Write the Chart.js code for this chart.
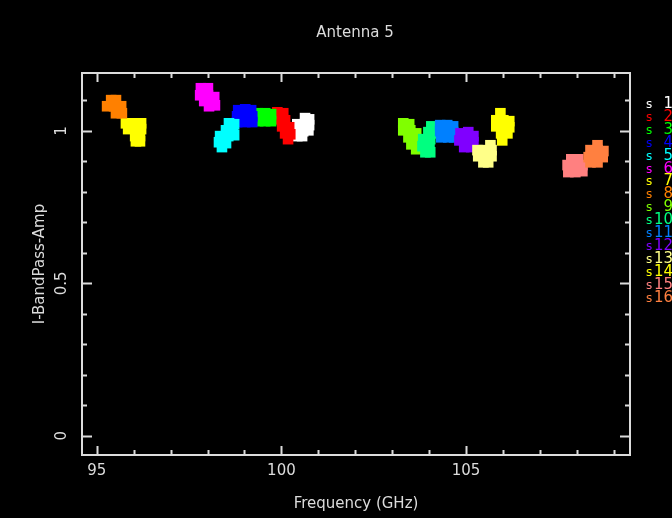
<!DOCTYPE html>
<html>
<head>
<meta charset="utf-8">
<title>Antenna 5</title>
<script src="https://cdn.jsdelivr.net/npm/chart.js@4.4.1/dist/chart.umd.min.js"></script>
<style>
	html, body { margin: 0; padding: 0; background: #000; }
	#wrap { width: 672px; height: 518px; }
</style>
</head>
<body>
<div id="wrap"><canvas id="bp" width="672" height="518"></canvas></div>
<script>
// spectral windows, one blob of channels each
var spwNames = ['1', '2', '3', '4', '5', '6', '7', '8', '9', '10', '11', '12', '13', '14', '15', '16'];
var spwColors = ['#ffffff', '#ff0000', '#00ff00', '#0000ff', '#00ffff', '#ff00ff', '#ffff00', '#ff8000',
	'#80ff00', '#00ff80', '#0080ff', '#8000ff', '#ffff88', '#ffff00', '#ff8080', '#ff8040'];

var spwFreq = [
	[100.64, 100.75, 100.43, 100.62, 100.75, 100.40, 100.59, 100.73, 100.43, 100.56],
	[99.89, 100.05, 99.91, 100.10, 100.02, 100.21, 100.10, 100.24, 100.18],
	[99.37, 99.56, 99.72, 99.37, 99.56, 99.72],
	[98.83, 99.02, 99.18, 98.80, 99.02, 99.21, 98.80, 99.02, 99.21],
	[98.58, 98.72, 98.50, 98.69, 98.34, 98.56, 98.72, 98.31, 98.50, 98.39],
	[97.82, 98.01, 97.80, 98.01, 98.18, 97.91, 98.10, 98.20, 98.04],
	[95.79, 96.01, 96.20, 95.85, 96.06, 96.20, 96.04, 96.17, 96.06, 96.17],
	[95.39, 95.52, 95.28, 95.47, 95.66, 95.52, 95.68],
	[103.30, 103.46, 103.30, 103.49, 103.65, 103.44, 103.63, 103.52, 103.71, 103.65],
	[104.06, 103.98, 104.11, 103.84, 104.03, 103.82, 104.01, 103.90, 104.03],
	[104.30, 104.49, 104.65, 104.30, 104.49, 104.65, 104.33, 104.52, 104.68],
	[104.85, 105.06, 105.20, 104.82, 105.01, 105.20, 104.95, 105.14],
	[105.66, 105.31, 105.49, 105.69, 105.33, 105.52, 105.69, 105.47, 105.60],
	[105.93, 105.82, 106.01, 106.17, 105.82, 106.01, 106.17, 105.95, 106.12, 105.98],
	[107.85, 108.04, 107.75, 107.96, 108.15, 107.77, 107.96, 108.15],
	[108.56, 108.37, 108.56, 108.72, 108.32, 108.51, 108.70, 108.37, 108.56]
];

var spwAmp = [
	[1.042, 1.038, 1.022, 1.022, 1.019, 0.999, 0.999, 1.002, 0.983, 0.983],
	[1.061, 1.058, 1.038, 1.035, 1.015, 1.012, 0.992, 0.989, 0.973],
	[1.058, 1.058, 1.055, 1.032, 1.032, 1.032],
	[1.068, 1.071, 1.068, 1.048, 1.048, 1.048, 1.029, 1.029, 1.029],
	[1.025, 1.022, 1.002, 1.002, 0.983, 0.983, 0.986, 0.963, 0.960, 0.947],
	[1.140, 1.140, 1.117, 1.117, 1.111, 1.098, 1.094, 1.084, 1.081],
	[1.025, 1.025, 1.025, 1.006, 1.006, 1.006, 0.983, 0.983, 0.966, 0.966],
	[1.101, 1.101, 1.081, 1.081, 1.081, 1.058, 1.058],
	[1.025, 1.022, 1.002, 1.002, 0.992, 0.979, 0.976, 0.956, 0.960, 0.940],
	[1.015, 0.996, 0.992, 0.973, 0.973, 0.950, 0.950, 0.930, 0.930],
	[1.019, 1.019, 1.015, 0.999, 0.999, 0.996, 0.979, 0.979, 0.979],
	[0.992, 0.996, 0.983, 0.969, 0.969, 0.963, 0.947, 0.947],
	[0.953, 0.937, 0.937, 0.937, 0.917, 0.917, 0.917, 0.897, 0.897],
	[1.058, 1.035, 1.035, 1.032, 1.015, 1.015, 1.012, 0.992, 0.992, 0.969],
	[0.907, 0.907, 0.888, 0.888, 0.888, 0.865, 0.865, 0.868],
	[0.953, 0.937, 0.937, 0.934, 0.914, 0.914, 0.914, 0.897, 0.897]
];

var xTicks = [95, 100, 105];
var yTicks = [0, 0.5, 1];
var yTickText = ['0', '0.5', '1'];

var fg = '#dcdcdc';
var fontFam = '"DejaVu Sans", sans-serif';

function buildDatasets() {
	var sets = [];
	for (var i = 0; i < spwNames.length; i++) {
		var pts = [];
		for (var j = 0; j < spwFreq[i].length; j++) {
			pts.push({ x: spwFreq[i][j], y: spwAmp[i][j] });
		}
		sets.push({
			label: 'spw ' + spwNames[i],
			data: pts,
			pointStyle: 'rect',
			pointRadius: 7.5,
			borderWidth: 0,
			backgroundColor: spwColors[i],
			order: spwNames.length - i
		});
	}
	return sets;
}

// pgplot style box: frame, inward ticks on all sides, labels, key on the right
var plotFrame = {
	id: 'plotFrame',
	beforeDraw: function (chart) {
		var ctx = chart.ctx;
		ctx.save();
		ctx.fillStyle = '#000';
		ctx.fillRect(0, 0, chart.width, chart.height);
		ctx.restore();
	},
	afterDraw: function (chart) {
		var ctx = chart.ctx;
		var a = chart.chartArea;
		var xs = chart.scales.x;
		var ys = chart.scales.y;
		var v, p, len, i;

		ctx.save();
		ctx.strokeStyle = fg;
		ctx.lineWidth = 2;
		ctx.strokeRect(a.left, a.top, a.right - a.left, a.bottom - a.top);

		ctx.beginPath();
		for (v = 95; v <= 109; v++) {
			p = Math.round(xs.getPixelForValue(v)) + 0.5;
			len = (v % 5 === 0) ? 9 : 5;
			ctx.moveTo(p, a.bottom); ctx.lineTo(p, a.bottom - len);
			ctx.moveTo(p, a.top); ctx.lineTo(p, a.top + len);
		}
		for (i = 0; i <= 11; i++) {
			v = i / 10;
			p = Math.round(ys.getPixelForValue(v)) + 0.5;
			len = (i % 5 === 0) ? 10 : 5;
			ctx.moveTo(a.left, p); ctx.lineTo(a.left + len, p);
			ctx.moveTo(a.right, p); ctx.lineTo(a.right - len, p);
		}
		ctx.stroke();

		ctx.fillStyle = fg;
		ctx.font = '15px ' + fontFam;
		ctx.textAlign = 'center';
		ctx.textBaseline = 'middle';
		for (i = 0; i < xTicks.length; i++) {
			ctx.fillText(String(xTicks[i]), xs.getPixelForValue(xTicks[i]), 471);
		}
		ctx.fillText('Frequency (GHz)', (a.left + a.right) / 2, 504);
		ctx.fillText('Antenna 5', 355, 33);

		for (i = 0; i < yTicks.length; i++) {
			ctx.save();
			ctx.translate(62, ys.getPixelForValue(yTicks[i]));
			ctx.rotate(-Math.PI / 2);
			ctx.fillText(yTickText[i], 0, 0);
			ctx.restore();
		}
		ctx.save();
		ctx.translate(40, (a.top + a.bottom) / 2);
		ctx.rotate(-Math.PI / 2);
		ctx.fillText('I-BandPass-Amp', 0, 0);
		ctx.restore();

		// key
		ctx.textBaseline = 'alphabetic';
		for (i = 0; i < spwNames.length; i++) {
			var base = 108 + i * 12.9;
			ctx.fillStyle = spwColors[i];
			ctx.font = '12px ' + fontFam;
			ctx.textAlign = 'left';
			ctx.fillText('s', 646, base);
			ctx.font = '15px ' + fontFam;
			ctx.textAlign = 'right';
			ctx.fillText(spwNames[i], 673, base);
		}
		ctx.restore();
	}
};

var chart = new Chart(document.getElementById('bp'), {
	type: 'scatter',
	data: { datasets: buildDatasets() },
	options: {
		responsive: false,
		animation: false,
		layout: { padding: { left: 82, top: 73, right: 42, bottom: 63 } },
		plugins: {
			legend: { display: false },
			tooltip: { enabled: false }
		},
		scales: {
			x: { type: 'linear', min: 94.6, max: 109.44, display: false },
			y: { type: 'linear', min: -0.063, max: 1.19, display: false }
		}
	},
	plugins: [plotFrame]
});
</script>
</body>
</html>
